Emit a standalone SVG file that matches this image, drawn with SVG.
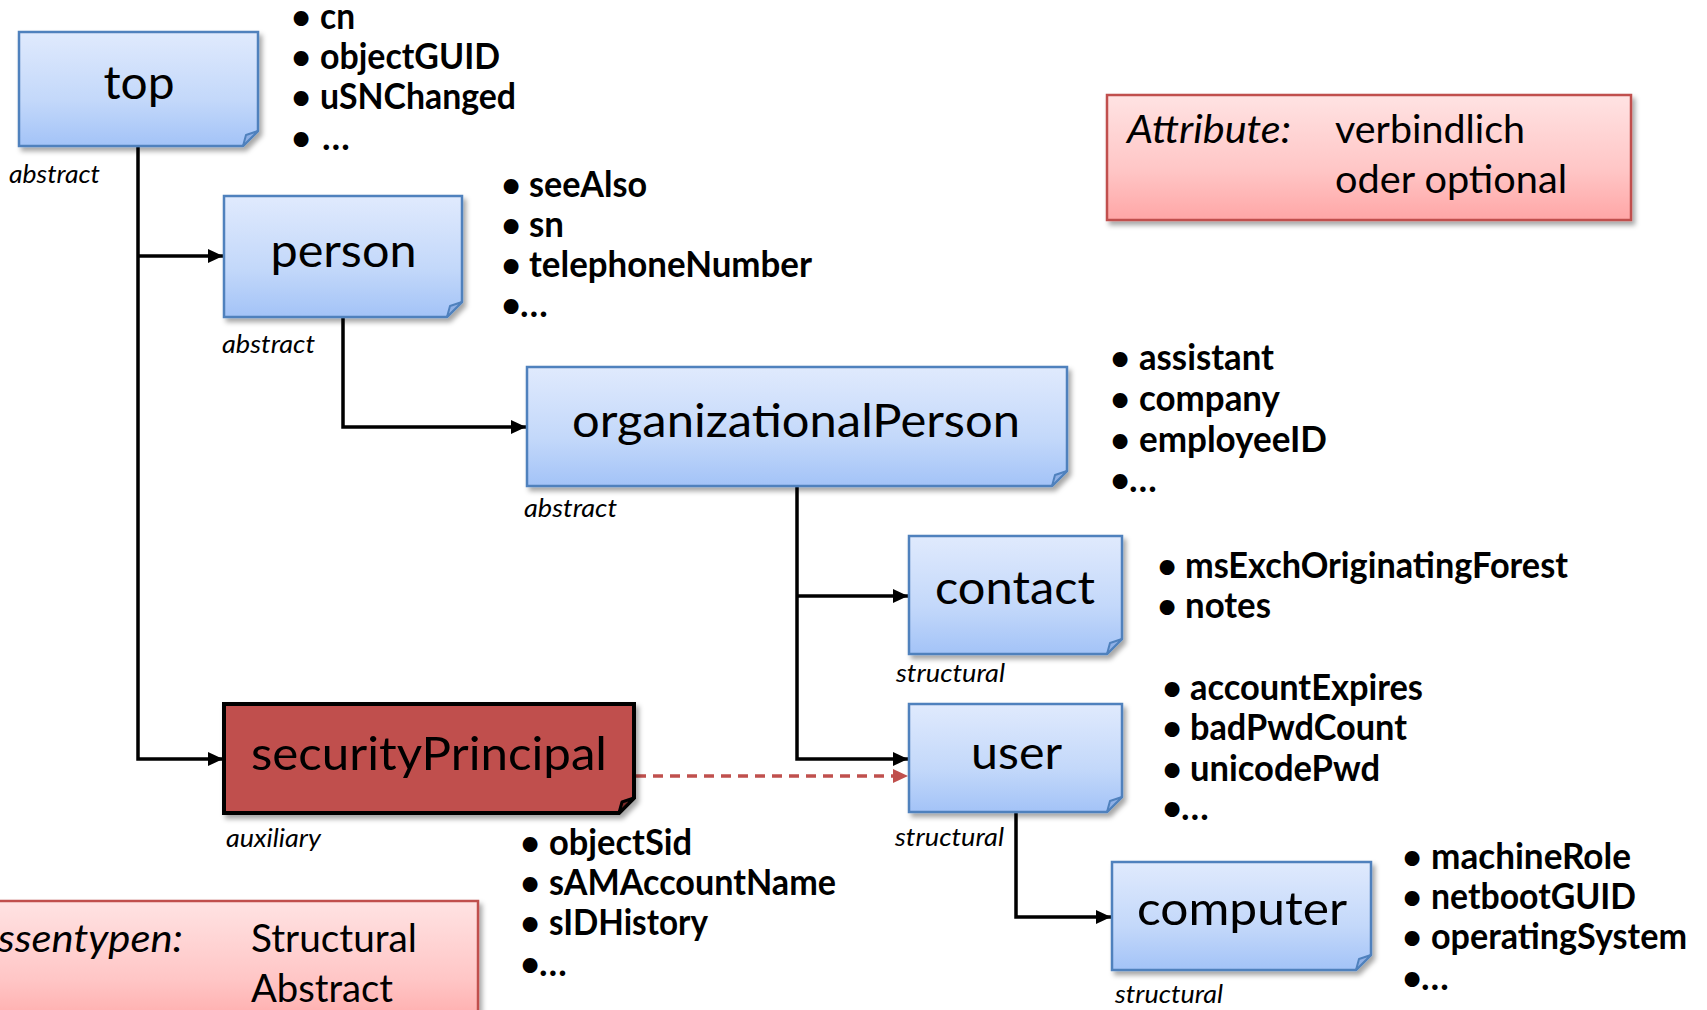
<svg xmlns="http://www.w3.org/2000/svg" width="1707" height="1010" viewBox="0 0 1707 1010">
<defs>
<linearGradient id="gBlue" x1="0" y1="0" x2="0" y2="1">
<stop offset="0" stop-color="#E0EAFD"/>
<stop offset="0.6" stop-color="#C3D8FA"/>
<stop offset="1" stop-color="#A3C3F7"/>
</linearGradient>
<linearGradient id="gPink" x1="0" y1="0" x2="0" y2="1">
<stop offset="0" stop-color="#FFE3E3"/>
<stop offset="0.6" stop-color="#FFC6C6"/>
<stop offset="1" stop-color="#FFA6A6"/>
</linearGradient>
<filter id="sh" x="-5%" y="-5%" width="115%" height="130%">
<feDropShadow dx="3" dy="4" stdDeviation="2.5" flood-color="#000" flood-opacity="0.35"/>
</filter>
<marker id="arr" markerUnits="userSpaceOnUse" markerWidth="16" markerHeight="14" refX="15" refY="7" orient="auto">
<path d="M0,0 L15,7 L0,14 Z" fill="#000"/>
</marker>
<marker id="arrRed" markerUnits="userSpaceOnUse" markerWidth="16" markerHeight="14" refX="15" refY="7" orient="auto">
<path d="M0,0 L15,7 L0,14 Z" fill="#C0504D"/>
</marker>
</defs>
<style>
.box{fill:url(#gBlue);stroke:#4F81BD;stroke-width:2.5}
.flap{fill:#8FB0E6;stroke:#4F81BD;stroke-width:2;stroke-linejoin:round}
.rbox{fill:#C0504D;stroke:#000;stroke-width:4}
.rflap{fill:#7A2B29;stroke:#000;stroke-width:3;stroke-linejoin:round}
.legend{fill:url(#gPink);stroke:#C0504D;stroke-width:2.5}
.title{font-family:Lato,"Open Sans","Liberation Sans",sans-serif;font-size:47px;fill:#000;text-anchor:middle}
.kind{font-family:Lato,"Open Sans","Liberation Sans",sans-serif;font-size:25px;font-style:italic;fill:#000}
.attr{font-family:Lato,"Open Sans","Liberation Sans",sans-serif;font-size:36px;font-weight:bold;fill:#000}
.bul{font-family:Lato,"Open Sans","Liberation Sans",sans-serif;font-size:34px;font-weight:bold;fill:#000;text-anchor:middle}
.leg{font-family:Lato,"Open Sans","Liberation Sans",sans-serif;font-size:38px;fill:#000}
.legi{font-family:Lato,"Open Sans","Liberation Sans",sans-serif;font-size:38px;font-style:italic;fill:#000}
.conn{fill:none;stroke:#000;stroke-width:3.5}
.dash{fill:none;stroke:#C0504D;stroke-width:3.5;stroke-dasharray:10 7}
</style>
<rect width="1707" height="1010" fill="#fff"/>

<g id="legend-attribute">
<rect class="legend" x="1107" y="95" width="524" height="125" filter="url(#sh)"/>
<text class="legi" x="1127" y="143" textLength="164" lengthAdjust="spacingAndGlyphs">Attribute:</text>
<text class="leg" x="1335" y="143" textLength="190" lengthAdjust="spacingAndGlyphs">verbindlich</text>
<text class="leg" x="1335" y="193" textLength="232" lengthAdjust="spacingAndGlyphs">oder optional</text>
</g>

<g id="legend-klassentypen">
<rect class="legend" x="-10" y="901" width="488" height="130" filter="url(#sh)"/>
<text class="legi" x="-2" y="952" textLength="185" lengthAdjust="spacingAndGlyphs">ssentypen:</text>
<text class="leg" x="251" y="952" textLength="166" lengthAdjust="spacingAndGlyphs">Structural</text>
<text class="leg" x="251" y="1002" textLength="142" lengthAdjust="spacingAndGlyphs">Abstract</text>
</g>

<g id="connectors">
<path class="conn" d="M138,147 V759 H223" marker-end="url(#arr)"/>
<path class="conn" d="M138,256 H223" marker-end="url(#arr)"/>
<path class="conn" d="M343,318 V427 H526" marker-end="url(#arr)"/>
<path class="conn" d="M797,487 V759 H908" marker-end="url(#arr)"/>
<path class="conn" d="M797,596 H908" marker-end="url(#arr)"/>
<path class="conn" d="M1016,813 V917 H1111" marker-end="url(#arr)"/>
<path class="dash" d="M636,776 H908" marker-end="url(#arrRed)"/>
</g>

<g id="node-top">
<g filter="url(#sh)">
<path class="box" d="M19,32 H258 V131 L243,146 H19 Z"/>
<path class="flap" d="M243,146 L246,135 L258,131 Z"/>
</g>
<text class="title" x="139" y="99" textLength="71" lengthAdjust="spacingAndGlyphs">top</text>
<text class="kind" x="9" y="183" textLength="91" lengthAdjust="spacingAndGlyphs">abstract</text>
<text class="bul" x="301" y="29">•</text><text class="attr" x="320" y="29" textLength="35" lengthAdjust="spacingAndGlyphs">cn</text>
<text class="bul" x="301" y="69">•</text><text class="attr" x="320" y="69" textLength="180" lengthAdjust="spacingAndGlyphs">objectGUID</text>
<text class="bul" x="301" y="109">•</text><text class="attr" x="320" y="109" textLength="196" lengthAdjust="spacingAndGlyphs">uSNChanged</text>
<text class="bul" x="301" y="150">•</text><text class="attr" x="322" y="150">…</text>
</g>

<g id="node-person">
<g filter="url(#sh)">
<path class="box" d="M224,196 H462 V302 L447,317 H224 Z"/>
<path class="flap" d="M447,317 L450,306 L462,302 Z"/>
</g>
<text class="title" x="343.5" y="267" textLength="146" lengthAdjust="spacingAndGlyphs">person</text>
<text class="kind" x="222" y="353" textLength="93" lengthAdjust="spacingAndGlyphs">abstract</text>
<text class="bul" x="511" y="197">•</text><text class="attr" x="529" y="197" textLength="118" lengthAdjust="spacingAndGlyphs">seeAlso</text>
<text class="bul" x="511" y="237">•</text><text class="attr" x="529" y="237" textLength="35" lengthAdjust="spacingAndGlyphs">sn</text>
<text class="bul" x="511" y="277">•</text><text class="attr" x="529" y="277" textLength="283" lengthAdjust="spacingAndGlyphs">telephoneNumber</text>
<text class="bul" x="511" y="317">•</text><text class="attr" x="520" y="317">…</text>
</g>

<g id="node-organizationalPerson">
<g filter="url(#sh)">
<path class="box" d="M527,367 H1067 V471 L1052,486 H527 Z"/>
<path class="flap" d="M1052,486 L1055,475 L1067,471 Z"/>
</g>
<text class="title" x="796" y="437" textLength="448" lengthAdjust="spacingAndGlyphs">organizationalPerson</text>
<text class="kind" x="524" y="517" textLength="93" lengthAdjust="spacingAndGlyphs">abstract</text>
<text class="bul" x="1120" y="370">•</text><text class="attr" x="1139" y="370" textLength="135" lengthAdjust="spacingAndGlyphs">assistant</text>
<text class="bul" x="1120" y="411">•</text><text class="attr" x="1139" y="411" textLength="141" lengthAdjust="spacingAndGlyphs">company</text>
<text class="bul" x="1120" y="452">•</text><text class="attr" x="1139" y="452" textLength="188" lengthAdjust="spacingAndGlyphs">employeeID</text>
<text class="bul" x="1120" y="492">•</text><text class="attr" x="1129" y="492">…</text>
</g>

<g id="node-contact">
<g filter="url(#sh)">
<path class="box" d="M909,536 H1122 V639 L1107,654 H909 Z"/>
<path class="flap" d="M1107,654 L1110,643 L1122,639 Z"/>
</g>
<text class="title" x="1015" y="604" textLength="160" lengthAdjust="spacingAndGlyphs">contact</text>
<text class="kind" x="896" y="682" textLength="109" lengthAdjust="spacingAndGlyphs">structural</text>
<text class="bul" x="1167" y="578">•</text><text class="attr" x="1185" y="578" textLength="383" lengthAdjust="spacingAndGlyphs">msExchOriginatingForest</text>
<text class="bul" x="1167" y="618">•</text><text class="attr" x="1185" y="618" textLength="86" lengthAdjust="spacingAndGlyphs">notes</text>
</g>

<g id="node-user">
<g filter="url(#sh)">
<path class="box" d="M909,704 H1122 V797 L1107,812 H909 Z"/>
<path class="flap" d="M1107,812 L1110,801 L1122,797 Z"/>
</g>
<text class="title" x="1016.5" y="769" textLength="91" lengthAdjust="spacingAndGlyphs">user</text>
<text class="kind" x="895" y="846" textLength="109" lengthAdjust="spacingAndGlyphs">structural</text>
<text class="bul" x="1172" y="700">•</text><text class="attr" x="1190" y="700" textLength="233" lengthAdjust="spacingAndGlyphs">accountExpires</text>
<text class="bul" x="1172" y="740">•</text><text class="attr" x="1190" y="740" textLength="217" lengthAdjust="spacingAndGlyphs">badPwdCount</text>
<text class="bul" x="1172" y="781">•</text><text class="attr" x="1190" y="781" textLength="190" lengthAdjust="spacingAndGlyphs">unicodePwd</text>
<text class="bul" x="1172" y="820">•</text><text class="attr" x="1181" y="820">…</text>
</g>

<g id="node-securityPrincipal">
<g filter="url(#sh)">
<path class="rbox" d="M224,704 H634 V798 L619,813 H224 Z"/>
<path class="rflap" d="M619,813 L622,802 L634,798 Z"/>
</g>
<text class="title" x="429" y="770" textLength="356" lengthAdjust="spacingAndGlyphs">securityPrincipal</text>
<text class="kind" x="226" y="847" textLength="95" lengthAdjust="spacingAndGlyphs">auxiliary</text>
<text class="bul" x="530" y="855">•</text><text class="attr" x="549" y="855" textLength="143" lengthAdjust="spacingAndGlyphs">objectSid</text>
<text class="bul" x="530" y="895">•</text><text class="attr" x="549" y="895" textLength="287" lengthAdjust="spacingAndGlyphs">sAMAccountName</text>
<text class="bul" x="530" y="935">•</text><text class="attr" x="549" y="935" textLength="159" lengthAdjust="spacingAndGlyphs">sIDHistory</text>
<text class="bul" x="530" y="976">•</text><text class="attr" x="539" y="976">…</text>
</g>

<g id="node-computer">
<g filter="url(#sh)">
<path class="box" d="M1112,862 H1371 V955 L1356,970 H1112 Z"/>
<path class="flap" d="M1356,970 L1359,959 L1371,955 Z"/>
</g>
<text class="title" x="1242" y="925" textLength="210" lengthAdjust="spacingAndGlyphs">computer</text>
<text class="kind" x="1115" y="1003" textLength="108" lengthAdjust="spacingAndGlyphs">structural</text>
<text class="bul" x="1412" y="869">•</text><text class="attr" x="1431" y="869" textLength="200" lengthAdjust="spacingAndGlyphs">machineRole</text>
<text class="bul" x="1412" y="909">•</text><text class="attr" x="1431" y="909" textLength="205" lengthAdjust="spacingAndGlyphs">netbootGUID</text>
<text class="bul" x="1412" y="949">•</text><text class="attr" x="1431" y="949" textLength="256" lengthAdjust="spacingAndGlyphs">operatingSystem</text>
<text class="bul" x="1412" y="990">•</text><text class="attr" x="1421" y="990">…</text>
</g>
</svg>
